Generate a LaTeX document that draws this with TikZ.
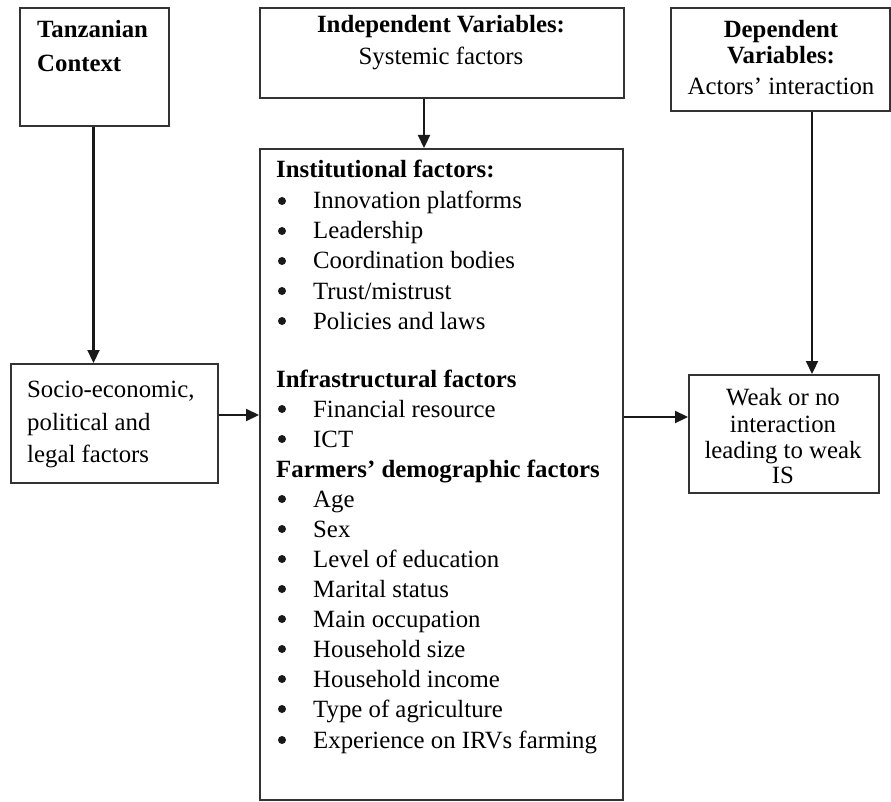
\documentclass[tikz,border=0pt]{standalone}
\usepackage{fontspec}
\setmainfont{Liberation Serif}
\usetikzlibrary{arrows.meta}
\tikzset{
  box/.style={draw=black!80, line width=1.6pt, inner sep=0pt, anchor=north west},
  conn/.style={draw=black!90, line width=2.2pt, -{Triangle[length=13pt,width=12pt]}},
  txt/.style={anchor=base west, inner sep=0pt, font=\fontsize{24.8}{30}\selectfont},
  ctxt/.style={anchor=base, inner sep=0pt, font=\fontsize{24.8}{30}\selectfont},
  dot/.style={circle, fill=black!90, inner sep=0pt, minimum size=8pt},
}
\begin{document}
\begin{tikzpicture}[x=1pt,y=-1pt]
\useasboundingbox (0,0) rectangle (891,802);
% boxes
\node[box, minimum width=149pt, minimum height=118pt] (tz) at (19,7) {};
\node[box, minimum width=364pt, minimum height=90pt] (iv) at (259,7) {};
\node[box, minimum width=219pt, minimum height=103pt] (dv) at (670,7) {};
\node[box, minimum width=207pt, minimum height=119pt] (se) at (10,363) {};
\node[box, minimum width=363pt, minimum height=651pt] (mf) at (259,148) {};
\node[box, minimum width=190pt, minimum height=118pt] (wk) at (688,374) {};
% box texts
\node[txt] (tz1) at (37,38) {\textbf{Tanzanian}};
\node[txt] (tz2) at (37,72) {\textbf{Context}};
\node[ctxt] (iv1) at (441,33) {\textbf{Independent Variables:}};
\node[ctxt] (iv2) at (441,65) {Systemic factors};
\node[ctxt] (dv1) at (781,38) {\textbf{Dependent}};
\node[ctxt] (dv2) at (781,64) {\textbf{Variables:}};
\node[ctxt] (dv3) at (781,95) {Actors’ interaction};
\node[txt] (se1) at (27,397) {Socio-economic,};
\node[txt] (se2) at (27,430) {political and};
\node[txt] (se3) at (27,462) {legal factors};
\node[ctxt] (wk1) at (783,405) {Weak or no};
\node[ctxt] (wk2) at (783,432) {interaction};
\node[ctxt] (wk3) at (783,458) {leading to weak};
\node[ctxt] (wk4) at (783,483) {IS};
% main box contents
\node[txt] (h1) at (276,178) {\textbf{Institutional factors:}};
\foreach \y/\t [count=\i] in {209/Innovation platforms, 239/Leadership, 269/Coordination bodies, 299/Trust\slash mistrust, 329/Policies and laws}{
  \node[dot] (ba\i) at (282,\y-8) {};
  \node[txt] (ia\i) at (313,\y) {\t};
}
\node[txt] (h2) at (276,387) {\textbf{Infrastructural factors}};
\foreach \y/\t [count=\i] in {417/Financial resource, 447/ICT}{
  \node[dot] (bb\i) at (282,\y-8) {};
  \node[txt] (ib\i) at (313,\y) {\t};
}
\node[txt] (h3) at (276,477) {\textbf{Farmers’ demographic factors}};
\foreach \y/\t [count=\i] in {507/Age, 537/Sex, 567/Level of education, 597/Marital status, 627/Main occupation, 657/Household size, 687/Household income, 717/Type of agriculture, 748/Experience on IRVs farming}{
  \node[dot] (bc\i) at (282,\y-8) {};
  \node[txt] (ic\i) at (313,\y) {\t};
}
% connectors
\draw[conn] (tz.south -| 93.5,0) -- (se.north -| 93.5,0);
\draw[conn] (iv.south -| 424,0) -- (mf.north -| 424,0);
\draw[conn] (dv.south -| 812,0) -- (wk.north -| 812,0);
\draw[conn] (se.east |- 0,415) -- (mf.west |- 0,415);
\draw[conn] (mf.east |- 0,417) -- (wk.west |- 0,417);
\end{tikzpicture}
\end{document}
